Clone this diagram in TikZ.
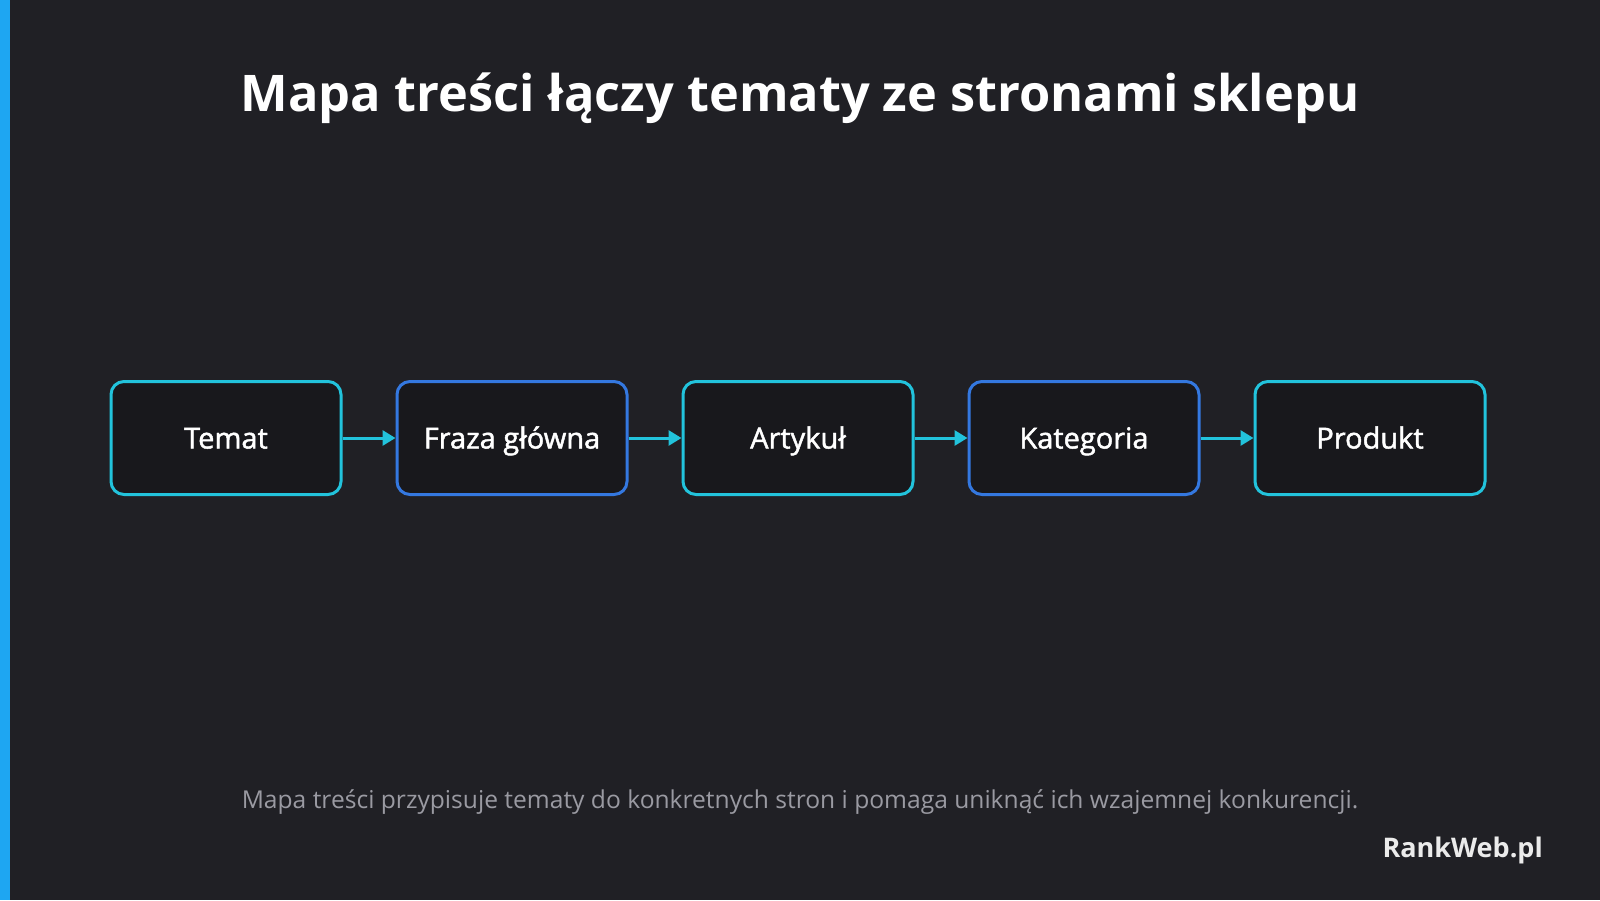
\documentclass[tikz,border=0pt]{standalone}
\usepackage{fontspec}
\setmainfont{Open Sans}
\newfontfamily\stagefont{Open Sans}[FakeBold=1.6]
\usetikzlibrary{positioning,arrows.meta}
\definecolor{bgdark}{HTML}{202025}
\definecolor{boxdark}{HTML}{18181C}
\definecolor{cyanline}{HTML}{22C3DC}
\definecolor{blueline}{HTML}{3478E0}
\definecolor{notegray}{HTML}{9A9AA2}
\definecolor{barblue}{HTML}{1EA6F2}
\begin{document}
\begin{tikzpicture}[
        %We set the units and define some styles
        x=1pt, y=-1pt,
        stage/.style={draw=cyanline, line width=3pt, fill=boxdark, rounded corners=13pt,
            minimum width=230pt, minimum height=113pt, text=white,
            text height=24pt, text depth=3pt,
            font=\stagefont\fontsize{29}{33}\selectfont},
        stage blue/.style={stage, draw=blueline},
        link/.style={draw=cyanline, line width=3pt, -{Triangle[length=13pt,width=15pt]}},
        every node/.style={inner sep=0pt},
    ]
    % background and left bar
    \fill[bgdark] (0,0) rectangle (1600,900);
    \fill[barblue] (0,0) rectangle (10,900);
    \useasboundingbox (0,0) rectangle (1600,900);

    % title
    \node (title) at (800,98) {\fontsize{50.5}{56}\selectfont\bfseries\color{white}Mapa treści łączy tematy ze stronami sklepu};

    % the chain of stages
    \node[stage] (temat) at (226,438) {Temat};
    \node[stage blue, right=53pt of temat] (fraza) {Fraza główna};
    \node[stage, right=53pt of fraza] (artykul) {Artykuł};
    \node[stage blue, right=53pt of artykul] (kategoria) {Kategoria};
    \node[stage, right=53pt of kategoria] (produkt) {Produkt};

    \draw[link] (temat) -- (fraza);
    \draw[link] (fraza) -- (artykul);
    \draw[link] (artykul) -- (kategoria);
    \draw[link] (kategoria) -- (produkt);

    % note and brand
    \node[text=notegray] (note) at (800,802) {\fontsize{24.6}{29}\selectfont Mapa treści przypisuje tematy do konkretnych stron i pomaga uniknąć ich wzajemnej konkurencji.};
    \node[anchor=east, text=white!92!black] (brand) at (1543,850) {\fontsize{27}{32}\selectfont\bfseries RankWeb.pl};
\end{tikzpicture}
\end{document}
